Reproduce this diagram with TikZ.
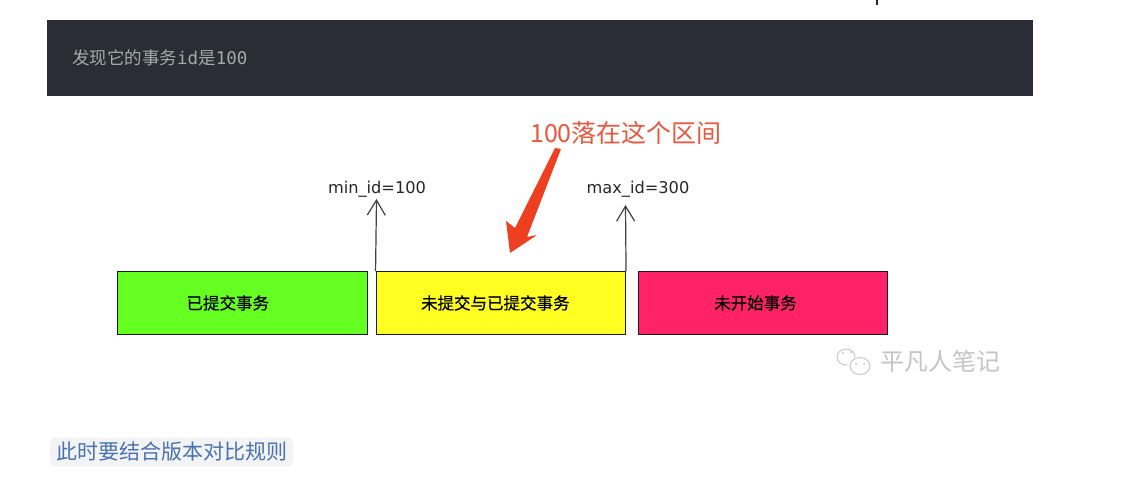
\documentclass[tikz,border=0pt]{standalone}
\usepackage{fontspec}
\setmainfont{Liberation Sans}
\newfontfamily\cjk{Noto Sans CJK SC}
\newfontfamily\cjkb[FakeBold=0.6]{Noto Sans CJK SC}
\newfontfamily\dv{DejaVu Sans}
\newfontfamily\dvm{DejaVu Sans Mono}
\usetikzlibrary{arrows.meta}
\definecolor{codebg}{HTML}{2A2D35}
\definecolor{codefg}{HTML}{A4A9AE}
\definecolor{gbox}{HTML}{66FF22}
\definecolor{ybox}{HTML}{FFFF22}
\definecolor{pbox}{HTML}{FF2266}
\definecolor{redtxt}{HTML}{E9573F}
\definecolor{redarr}{HTML}{EE4020}
\definecolor{linkbg}{HTML}{F1F3F5}
\definecolor{linkfg}{HTML}{4A72B0}
\definecolor{wm}{HTML}{C4C4C4}
\tikzset{
  evbox/.style={draw=black!90,line width=1pt,minimum width=249.5pt,minimum height=62.5pt,inner sep=0pt,font=\fontsize{16.5}{18}\selectfont\cjkb},
  uparrow/.style={draw=black!75,line width=1.2pt,-{Straight Barb[length=15pt,width=18pt,line width=1.2pt]}},
  idlabel/.style={inner sep=0pt,font=\fontsize{16.2}{18}\selectfont\dv,text=black!85},
}
\begin{document}
\begin{tikzpicture}[x=1pt,y=-1pt]
\useasboundingbox (0,0) rectangle (1129,502);
\fill[white] (0,0) rectangle (1129,502);
\fill[black!85] (876,0) rectangle (878,5);
\node[fill=codebg,minimum width=986pt,minimum height=76pt,inner sep=0pt] (bar) at (540,58) {};
\node[anchor=west,inner sep=0pt,text=codefg,font=\fontsize{17.5}{20}\selectfont] (bartext) at (72,58) {{\cjk 发现它的事务}{\dvm id}{\cjk 是}{\dvm 100}};
\node[evbox,fill=gbox] (b1) at (242.3,303) {已提交事务\kern29pt};
\node[evbox,fill=ybox] (b2) at (500.8,303) {未提交与已提交事务\kern11pt};
\node[evbox,fill=pbox] (b3) at (763,303) {未开始事务\kern15pt};
\node[idlabel] (minl) at (377,189.5) {min\_id=100};
\node[idlabel] (maxl) at (638,189.5) {max\_id=300};
\coordinate (mintip) at (376.5,199);
\coordinate (maxtip) at (625.5,205);
\draw[uparrow] (b2.north west) -- (mintip);
\draw[uparrow] (b2.north east) -- (maxtip);
\node[inner sep=0pt,text=redtxt,font=\fontsize{25}{28}\selectfont\cjk] (note) at (626,133) {100落在这个区间};
\fill[redarr,rounded corners=0.6pt] (555,148) -- (561,149) -- (527,237) -- (537,235) -- (510,253) -- (506,221) -- (515,228) -- cycle;
% watermark
\begin{scope}[draw=wm,line width=0.9pt]
\draw (846,357) ellipse (9pt and 8pt);
\fill[white] (858,366) ellipse (11pt and 9pt);
\draw (860,366) ellipse (10pt and 8.5pt);
\fill[wm] (843,353) circle (1pt) (851,352) circle (1pt) (856,364) circle (1pt) (864,364) circle (1pt);
\end{scope}
\node[inner sep=0pt,text=wm,font=\fontsize{24}{27}\selectfont\cjk] (wmark) at (940.5,361) {平凡人笔记};
\node[fill=linkbg,rounded corners=5pt,minimum width=243pt,minimum height=29pt,inner sep=0pt] (linkbg) at (171.5,452) {};
\node[inner sep=0pt,text=linkfg,font=\fontsize{21}{24}\selectfont\cjk] (link) at (172,452) {此时要结合版本对比规则};
\end{tikzpicture}
\end{document}
